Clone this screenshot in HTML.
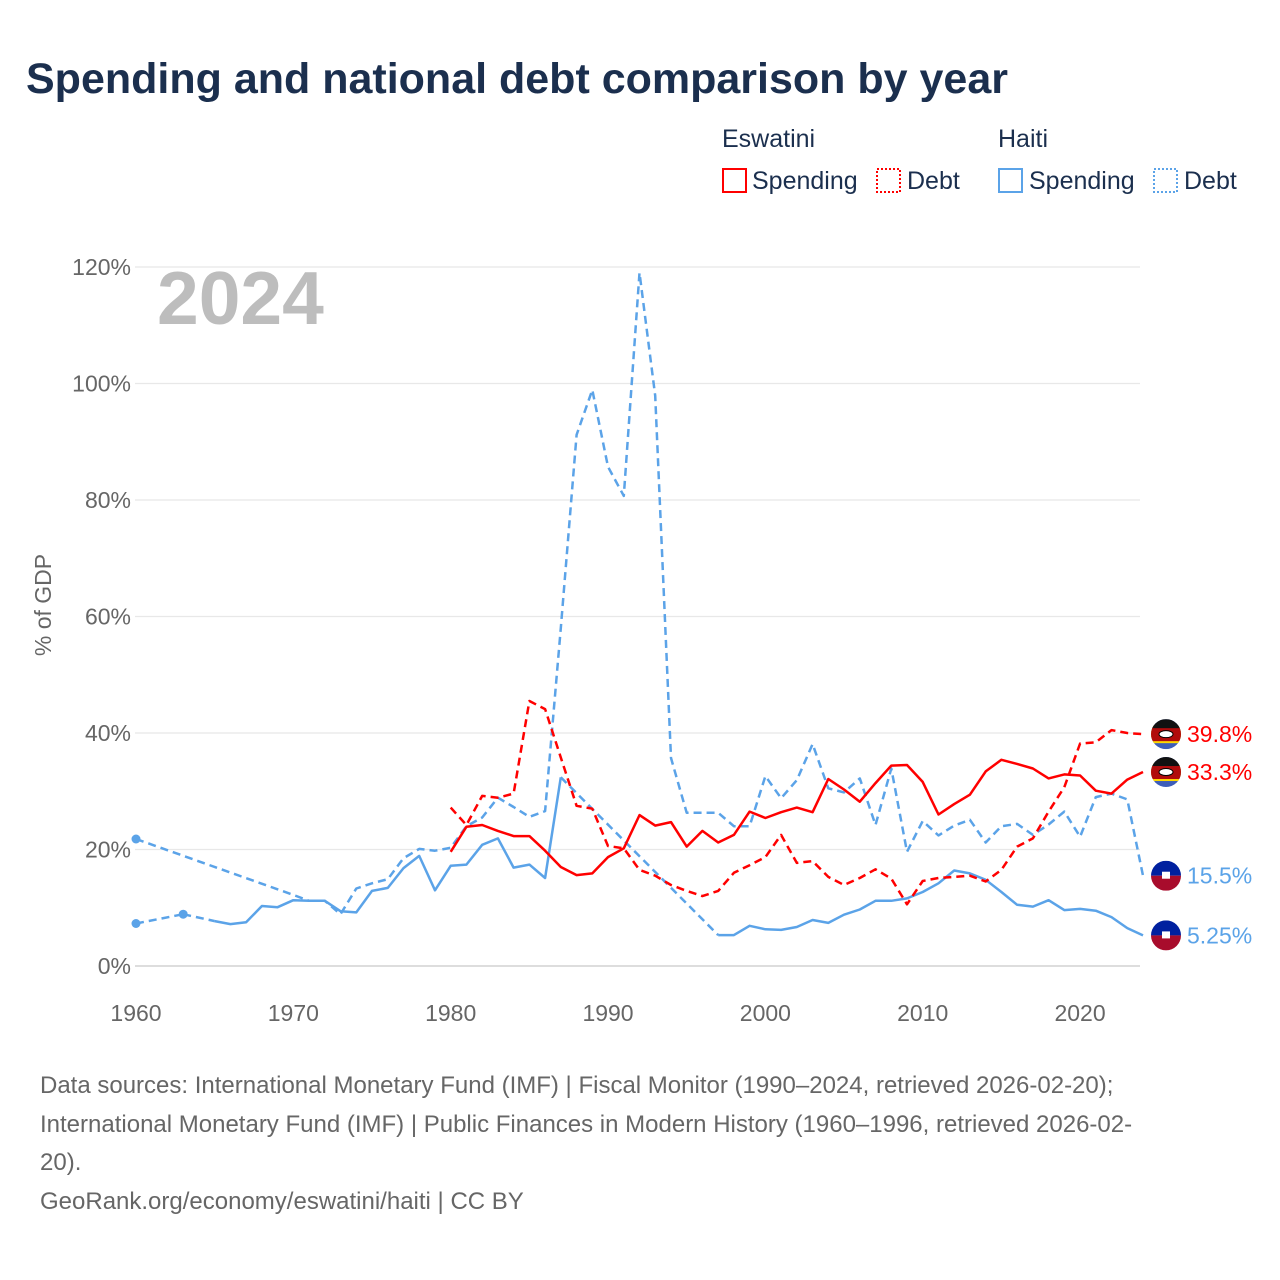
<!DOCTYPE html>
<html><head><meta charset="utf-8">
<style>
body{margin:0;background:#fff;font-family:"Liberation Sans",sans-serif;}
#wrap{position:relative;width:1280px;height:1280px;overflow:hidden;background:#fff;}
</style></head>
<body>
<div id="wrap">
<svg id="svg" width="1280" height="1280" xmlns="http://www.w3.org/2000/svg">
<text x="26" y="93" font-size="43" font-weight="bold" fill="#1b2f4e" textLength="982" lengthAdjust="spacingAndGlyphs" font-family="Liberation Sans, sans-serif">Spending and national debt comparison by year</text>
<g font-size="25" fill="#1b2f4e">
<text x="722" y="147">Eswatini</text>
<text x="998" y="147">Haiti</text>
<g><rect x="723" y="169" width="23" height="23" fill="none" stroke="#f00" stroke-width="2"/><text x="752" y="189">Spending</text></g>
<g><rect x="877" y="169" width="23" height="23" fill="none" stroke="#f00" stroke-width="2" stroke-dasharray="2,2"/><text x="907" y="189">Debt</text></g>
<g><rect x="999" y="169" width="23" height="23" fill="none" stroke="#5ba3e8" stroke-width="2"/><text x="1029" y="189">Spending</text></g>
<g><rect x="1154" y="169" width="23" height="23" fill="none" stroke="#5ba3e8" stroke-width="2" stroke-dasharray="2,2"/><text x="1184" y="189">Debt</text></g>
</g>
<g id="grid"></g>
<text x="157" y="324" font-size="75" font-weight="bold" fill="#bdbdbd">2024</text>
<text transform="translate(51,605) rotate(-90)" text-anchor="middle" font-size="23" fill="#666">% of GDP</text>
<g id="series"></g>
<g id="ends"></g>
<g font-size="24" fill="#666">
<text x="40" y="1093">Data sources: International Monetary Fund (IMF) | Fiscal Monitor (1990–2024, retrieved 2026-02-20);</text>
<text x="40" y="1132">International Monetary Fund (IMF) | Public Finances in Modern History (1960–1996, retrieved 2026-02-</text>
<text x="40" y="1170">20).</text>
<text x="40" y="1209">GeoRank.org/economy/eswatini/haiti | CC BY</text>
</g>
</svg>
</div>
<script>
const yTicks=[0,20,40,60,80,100,120];
const xTicks=[1960,1970,1980,1990,2000,2010,2020];
const eswSpendYears=[1980,1981,1982,1983,1984,1985,1986,1987,1988,1989,1990,1991,1992,1993,1994,1995,1996,1997,1998,1999,2000,2001,2002,2003,2004,2005,2006,2007,2008,2009,2010,2011,2012,2013,2014,2015,2016,2017,2018,2019,2020,2021,2022,2023,2024];
const eswSpend=[19.6,23.9,24.2,23.2,22.3,22.3,19.8,17.0,15.6,15.9,18.7,20.2,25.9,24.1,24.7,20.5,23.2,21.2,22.5,26.5,25.4,26.4,27.2,26.4,32.1,30.3,28.2,31.4,34.4,34.5,31.6,26.0,27.8,29.4,33.4,35.4,34.7,33.9,32.2,32.9,32.7,30.1,29.6,32.0,33.3];
const eswDebtYears=eswSpendYears;
const eswDebt=[27.2,24.2,29.2,28.9,29.6,45.5,44.1,35.8,27.5,27.0,20.6,20.2,16.5,15.5,13.9,12.9,12.0,12.9,16.0,17.3,18.7,22.5,17.7,18.0,15.3,13.9,15.1,16.6,15.0,10.6,14.6,15.1,15.3,15.5,14.5,16.5,20.5,21.9,26.5,30.7,38.2,38.4,40.5,40.0,39.8];
const haiSpendYears=[1960,1963,1965,1966,1967,1968,1969,1970,1971,1972,1973,1974,1975,1976,1977,1978,1979,1980,1981,1982,1983,1984,1985,1986,1987,1997,1998,1999,2000,2001,2002,2003,2004,2005,2006,2007,2008,2009,2010,2011,2012,2013,2014,2015,2016,2017,2018,2019,2020,2021,2022,2023,2024];
const haiSpend=[7.3,8.9,7.7,7.2,7.5,10.3,10.1,11.3,11.2,11.2,9.4,9.2,12.9,13.4,16.8,18.9,13.0,17.2,17.4,20.8,21.9,16.9,17.4,15.1,32.4,5.3,5.3,6.9,6.3,6.2,6.7,7.9,7.4,8.8,9.7,11.2,11.2,11.6,12.7,14.2,16.4,15.9,14.8,12.7,10.5,10.2,11.3,9.6,9.8,9.5,8.4,6.5,5.25];
const haiDebtYears=[1960,1970,1971,1972,1973,1974,1975,1976,1977,1978,1979,1980,1981,1982,1983,1984,1985,1986,1987,1988,1989,1990,1991,1992,1993,1994,1995,1996,1997,1998,1999,2000,2001,2002,2003,2004,2005,2006,2007,2008,2009,2010,2011,2012,2013,2014,2015,2016,2017,2018,2019,2020,2021,2022,2023,2024];
const haiDebt=[21.8,12.2,11.2,11.2,8.9,13.3,14.2,14.9,18.5,20.1,19.8,20.3,24.0,25.5,28.9,27.3,25.6,26.6,58,91.2,98.9,85.7,80.7,119,97.9,35.7,26.3,26.3,26.3,24.0,24.0,32.6,28.8,31.9,38.1,30.5,29.8,32.2,24.2,33.9,19.6,24.9,22.4,24.1,25.1,21.2,24.0,24.4,22.5,24.3,26.5,22.2,29.0,29.6,28.6,15.5];
const endLabels=["39.8%","33.3%","15.5%","5.25%"];

const NS="http://www.w3.org/2000/svg";
const x=v=>136+(v-1960)*(1143-136)/64;
const y=v=>966-v*(966-267)/120;
const RED="#f00",BLUE="#5ba3e8";
function mk(t,a,p){const e=document.createElementNS(NS,t);for(const k in a)e.setAttribute(k,a[k]);p.appendChild(e);return e;}
const grid=document.getElementById('grid');
yTicks.forEach(t=>{
  const l=mk('line',{x1:135,x2:1140,y1:y(t),y2:y(t),stroke:t===0?'#ddd':'#e8e8e8','stroke-width':t===0?2:1.3},grid);
  
  
  const tx=mk('text',{x:131,y:y(t)+8,'text-anchor':'end','font-size':23,fill:'#666'},grid);
  tx.textContent=t+'%';
  
  
});
xTicks.forEach(t=>{
  const tx=mk('text',{x:x(t),y:1021,'text-anchor':'middle','font-size':23,fill:'#666'},grid);
  tx.textContent=t;
  
  
});
const sg=document.getElementById('series');
function draw(name,years,vals,color,dashed){
  const g=mk('g',{},sg);
  
  
  let d='',gaps='';
  for(let i=0;i<years.length;i++){
    const px=x(years[i]).toFixed(1),py=y(vals[i]).toFixed(1);
    if(i>0&&years[i]-years[i-1]>1&&!dashed){gaps+='M'+x(years[i-1]).toFixed(1)+','+y(vals[i-1]).toFixed(1)+'L'+px+','+py;d+='M'+px+','+py;}
    else d+=(i===0?'M':'L')+px+','+py;
    const iso=(i===0||years[i]-years[i-1]>1)&&(i===years.length-1||years[i+1]-years[i]>1);
    if(iso){const c=mk('circle',{cx:px,cy:py,r:4.5,fill:color},g);}
  }
  const p=mk('path',{d:d,fill:'none',stroke:color,'stroke-width':2.5,'stroke-linejoin':'round'},g);
  if(dashed)p.setAttribute('stroke-dasharray','8,5');
  
  
  if(gaps){const q=mk('path',{d:gaps,fill:'none',stroke:color,'stroke-width':2.5,'stroke-dasharray':'8,5'},g);}
}
draw('haiti-debt',haiDebtYears,haiDebt,BLUE,true);
draw('haiti-spending',haiSpendYears,haiSpend,BLUE,false);
draw('eswatini-debt',eswDebtYears,eswDebt,RED,true);
draw('eswatini-spending',eswSpendYears,eswSpend,RED,false);
const ends=document.getElementById('ends');
const endVals=[eswDebt[eswDebt.length-1],eswSpend[eswSpend.length-1],haiDebt[haiDebt.length-1],haiSpend[haiSpend.length-1]];
const endCountry=['eswatini','eswatini','haiti','haiti'];
const endColor=[RED,RED,BLUE,BLUE];
endVals.forEach((v,i)=>{
  const cy=y(v),cx=1166;
  const g=mk('g',{},ends);
  
  
  const cid='clip'+i;
  const cp=mk('clipPath',{id:cid},g);mk('circle',{cx:cx,cy:cy,r:15},cp);
  const fg=mk('g',{'clip-path':'url(#'+cid+')'},g);
  if(endCountry[i]==='eswatini'){
    mk('rect',{x:cx-15,y:cy-15,width:30,height:30,fill:'#3e5eb9'},fg);
    mk('rect',{x:cx-15,y:cy-9,width:30,height:18,fill:'#ffd900'},fg);
    mk('rect',{x:cx-15,y:cy-7,width:30,height:14,fill:'#b10c0c'},fg);
    mk('rect',{x:cx-15,y:cy-15,width:30,height:9,fill:'#111'},fg);
    mk('ellipse',{cx:cx,cy:cy,rx:7,ry:3.5,fill:'#fff',stroke:'#000','stroke-width':1},fg);
  }else{
    mk('rect',{x:cx-15,y:cy-15,width:30,height:15,fill:'#00209f'},fg);
    mk('rect',{x:cx-15,y:cy,width:30,height:15,fill:'#a80c2c'},fg);
    mk('rect',{x:cx-4,y:cy-4,width:8,height:7,fill:'#fff'},fg);
  }
  const t=mk('text',{x:1187,y:cy+8,'font-size':23,fill:endColor[i]},g);
  t.textContent=endLabels[i];
});
</script>
</body></html>
